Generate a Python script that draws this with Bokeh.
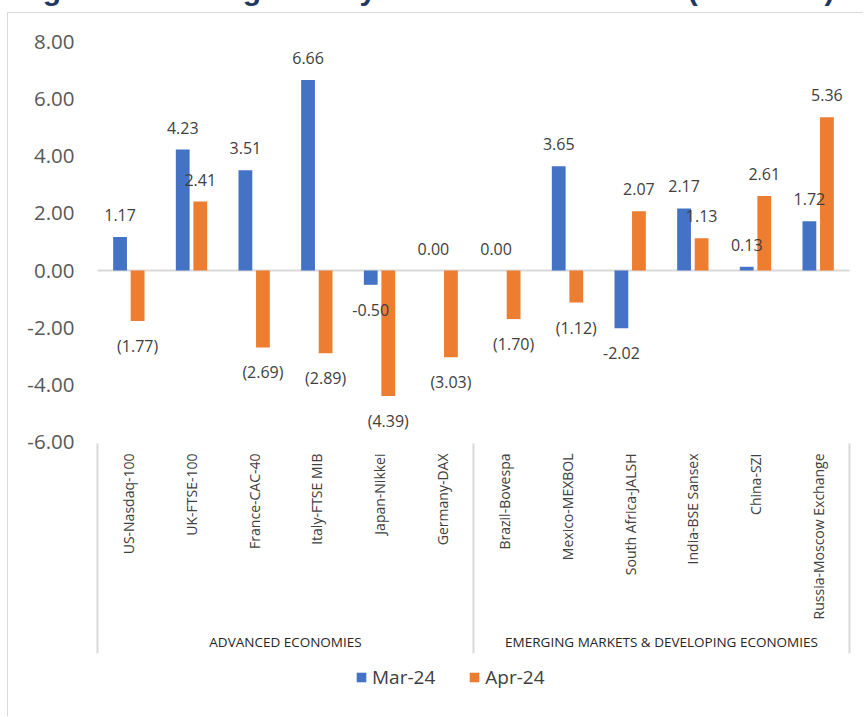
import math
from bokeh.plotting import figure
from bokeh.models import (ColumnDataSource, FactorRange, FixedTicker, NumeralTickFormatter,
                          Legend, LegendItem, Div)
from bokeh.layouts import column
from bokeh.transform import dodge
from bokeh.core.properties import value
from bokeh.embed import file_html
from bokeh.resources import INLINE

# ---- data ----
categories = ["US-Nasdaq-100", "UK-FTSE-100", "France-CAC-40", "Italy-FTSE MIB", "Japan-Nikkei",
              "Germany-DAX", "Brazil-Bovespa", "Mexico-MEXBOL", "South Africa-JALSH",
              "India-BSE Sansex", "China-SZI", "Russia-Moscow Exchange"]
mar_24 = [1.17, 4.23, 3.51, 6.66, -0.50, 0.00, 0.00, 3.65, -2.02, 2.17, 0.13, 1.72]
apr_24 = [-1.77, 2.41, -2.69, -2.89, -4.39, -3.03, -1.70, -1.12, 2.07, 1.13, 2.61, 5.36]
groups = ["ADVANCED ECONOMIES", "EMERGING MARKETS & DEVELOPING ECONOMIES"]
group_sizes = [6, 6]
series_names = ["Mar-24", "Apr-24"]
y_ticks = [-6, -4, -2, 0, 2, 4, 6, 8]
title_text = "Figure 13: Change in Key Global Stock Indices (% m-o-m)"

BLUE = "#4472C4"
ORANGE = "#ED7D31"
FONT = "Open Sans"


def fmt_mar(v):
    return f"{v:.2f}"


def fmt_apr(v):
    return f"({abs(v):.2f})" if v < 0 else f"{v:.2f}"


src = ColumnDataSource(dict(
    cat=categories,
    mar=mar_24,
    apr=apr_24,
    mar_lbl=[fmt_mar(v) for v in mar_24],
    apr_lbl=[fmt_apr(v) for v in apr_24],
    mar_off=[-22 if v >= 0 else 25 for v in mar_24],
    apr_off=[-22 if v >= 0 else 25 for v in apr_24],
))

px_per_unit = 28.59
frame_h = 697
zero_from_top = 250
y_top = zero_from_top / px_per_unit
y_bot = -(frame_h - zero_from_top) / px_per_unit

pad_units = 6 / 62.667

p = figure(
    width=856, height=704,
    x_range=FactorRange(factors=categories, range_padding=pad_units,
                        range_padding_units="absolute"),
    y_range=(y_bot, y_top),
    x_axis_location=None,
    output_backend="svg", toolbar_location=None,
    min_border_left=83, min_border_right=9, min_border_top=7, min_border_bottom=0,
    margin=(0, 0, 0, 7),
)
p.styles = {"border-left": "1px solid #d9d9d9", "border-top": "1px solid #d9d9d9"}
p.outline_line_color = None
p.xgrid.visible = False
p.ygrid.visible = False

ya = p.yaxis[0]
ya.ticker = FixedTicker(ticks=y_ticks)
ya.formatter = NumeralTickFormatter(format="0.00")
ya.axis_line_color = None
ya.major_tick_line_color = None
ya.minor_tick_line_color = None
ya.major_tick_in = 0
ya.major_tick_out = 0
ya.major_label_standoff = 17
ya.major_label_text_font = FONT
ya.major_label_text_font_size = "20.5px"
ya.major_label_text_color = "#595959"

# zero line
p.segment(x0=[0], y0=[0], x1=[len(categories)], y1=[0], line_color="#d9d9d9", line_width=2)

r_mar = p.vbar(x=dodge("cat", -0.14, range=p.x_range), top="mar", width=0.22, source=src,
               fill_color=BLUE, line_color=None)
r_apr = p.vbar(x=dodge("cat", 0.14, range=p.x_range), top="apr", width=0.22, source=src,
               fill_color=ORANGE, line_color=None)

p.text(x=dodge("cat", -0.14, range=p.x_range), y="mar", text="mar_lbl", y_offset="mar_off",
       source=src, text_align="center", text_baseline="middle",
       text_font=value(FONT), text_font_size="16px", text_color="#404040")
p.text(x=dodge("cat", 0.14, range=p.x_range), y="apr", text="apr_lbl", y_offset="apr_off",
       source=src, text_align="center", text_baseline="middle",
       text_font=value(FONT), text_font_size="16px", text_color="#404040")

# category labels (rotated)
cat_label_y = -(453 - 270) / px_per_unit
p.text(x=categories, y=[cat_label_y] * len(categories), text=categories,
       angle=math.pi / 2, text_align="right", text_baseline="middle",
       text_font=value(FONT), text_font_size="14px", text_color="#404040")

# group separators and labels
edges = [0]
for n in group_sizes:
    edges.append(edges[-1] + n)
sep_top = -(443 - 270) / px_per_unit
sep_bot = -(653 - 270) / px_per_unit
p.segment(x0=edges, y0=[sep_top] * len(edges), x1=edges, y1=[sep_bot] * len(edges),
          line_color="#d9d9d9", line_width=2)
centers = [(edges[i] + edges[i + 1]) / 2 for i in range(len(groups))]
grp_y = -(641.7 - 270) / px_per_unit
p.text(x=centers, y=[grp_y] * len(groups), text=groups, text_align="center",
       text_baseline="middle", text_font=value(FONT), text_font_size="13.5px",
       text_color="#262626")

legend = Legend(items=[LegendItem(label=series_names[0], renderers=[r_mar]),
                       LegendItem(label=series_names[1], renderers=[r_apr])],
                orientation="horizontal", location=(264, 27))
legend.glyph_width = 12
legend.glyph_height = 12
legend.label_standoff = 5
legend.spacing = 33
legend.padding = 0
legend.margin = 0
legend.border_line_color = None
legend.background_fill_color = None
legend.label_text_font = FONT
legend.label_text_font_size = "19px"
legend.label_text_color = "#404040"
p.add_layout(legend)

title_div = Div(
    text=('<div style="font-family:\'Liberation Sans\',Arial,sans-serif;font-weight:bold;'
          'font-size:30px;line-height:30px;color:#1F3864;white-space:nowrap;'
          'position:relative;top:-25px;left:16px;">' + title_text + '</div>'),
    width=864, height=12, margin=(0, 0, 0, 0),
    styles={"overflow": "hidden", "height": "12px"},
)

layout = column(title_div, p, spacing=0)
open("out.html", "w").write(file_html(layout, INLINE))
